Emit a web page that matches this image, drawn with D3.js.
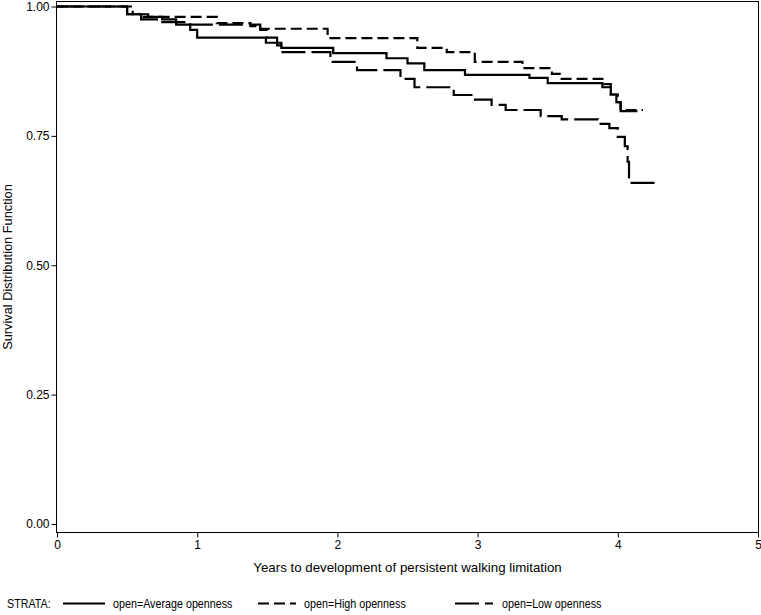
<!DOCTYPE html>
<html>
<head>
<meta charset="utf-8">
<script src="https://cdn.jsdelivr.net/npm/d3@7"></script>
<style>
  html, body { margin: 0; padding: 0; background: #fff; }
  svg { display: block; }
  text { font-family: "Liberation Sans", Arial, sans-serif; fill: #000; }
</style>
</head>
<body>
<svg id="chart" width="761" height="615"></svg>
<script>
// ---- data ----
const xTicks = [0, 1, 2, 3, 4, 5];
const yTicks = [0, 0.25, 0.5, 0.75, 1.0];
const strataLabels = ["open=Average openness", "open=High openness", "open=Low openness"];

const avgTimes = [0, 0.50, 0.65, 0.75, 0.85, 0.95, 1.00, 1.49, 1.60, 1.97, 2.35, 2.50, 2.62, 2.91, 3.37, 3.50, 3.89, 3.95, 3.99, 4.02, 4.14];
const avgSurv  = [1.0, 0.985, 0.980, 0.975, 0.965, 0.955, 0.940, 0.930, 0.920, 0.910, 0.900, 0.890, 0.877, 0.868, 0.862, 0.852, 0.844, 0.830, 0.815, 0.798, 0.798];

const highTimes = [0, 0.54, 0.60, 1.14, 1.38, 1.45, 1.93, 2.57, 2.78, 2.98, 3.32, 3.53, 3.60, 3.89, 3.95, 4.00, 4.02, 4.18];
const highSurv  = [1.0, 0.985, 0.980, 0.968, 0.962, 0.957, 0.939, 0.920, 0.912, 0.893, 0.881, 0.870, 0.860, 0.850, 0.830, 0.815, 0.800, 0.800];

const lowTimes = [0, 0.50, 0.60, 0.75, 0.95, 1.45, 1.50, 1.57, 1.60, 1.95, 2.14, 2.45, 2.55, 2.83, 2.97, 3.10, 3.20, 3.45, 3.60, 3.86, 3.94, 4.00, 4.05, 4.07, 4.08, 4.29];
const lowSurv  = [1.0, 0.985, 0.975, 0.970, 0.965, 0.955, 0.940, 0.925, 0.912, 0.893, 0.877, 0.860, 0.844, 0.829, 0.820, 0.810, 0.800, 0.788, 0.782, 0.773, 0.765, 0.748, 0.730, 0.700, 0.659, 0.659];

// ---- layout ----
const svg = d3.select("#chart");
const frame = {left: 56.5, right: 758.5, top: 1.5, bottom: 532.5};
const x = d3.scaleLinear().domain([0, 5]).range([57, 758]);
const y = d3.scaleLinear().domain([0, 1]).range([524, 6.5]);

const series = [
  {t: avgTimes, s: avgSurv, dash: null},
  {t: highTimes, s: highSurv, dash: "11,5"},
  {t: lowTimes, s: lowSurv, dash: "24,6"}
];

// frame
svg.append("rect")
  .attr("x", frame.left).attr("y", frame.top)
  .attr("width", frame.right - frame.left).attr("height", frame.bottom - frame.top)
  .attr("fill", "none").attr("stroke", "#000").attr("stroke-width", 1);

// axes
const yAxis = d3.axisLeft(y).tickValues(yTicks).tickFormat(d3.format(".2f")).tickSize(5).tickPadding(2);
const gy = svg.append("g").attr("transform", `translate(${frame.left},0)`).call(yAxis);
gy.select(".domain").remove();
gy.selectAll("text").style("font-size", "12px").style("font-family", "Liberation Sans, Arial, sans-serif");

const xAxis = d3.axisBottom(x).tickValues(xTicks).tickFormat(d3.format("d")).tickSize(5).tickPadding(3);
const gx = svg.append("g").attr("transform", `translate(0,${frame.bottom})`).call(xAxis);
gx.select(".domain").remove();
gx.selectAll("text").style("font-size", "12px").style("font-family", "Liberation Sans, Arial, sans-serif");

// axis titles
svg.append("text")
  .attr("x", (x(0) + x(5)) / 2).attr("y", 572)
  .attr("text-anchor", "middle").style("font-size", "13.3px")
  .text("Years to development of persistent walking limitation");

svg.append("text")
  .attr("transform", `translate(12,${(frame.top + frame.bottom) / 2}) rotate(-90)`)
  .attr("text-anchor", "middle").style("font-size", "12.8px")
  .text("Survival Distribution Function");

// curves
const line = d3.line().x(d => x(d[0])).y(d => y(d[1])).curve(d3.curveStepAfter);
series.forEach(sr => {
  const pts = sr.t.map((t, i) => [t, sr.s[i]]);
  svg.append("path")
    .attr("d", line(pts))
    .attr("fill", "none")
    .attr("stroke", "#000")
    .attr("stroke-width", 2.2)
    .attr("stroke-dasharray", sr.dash);
});

// legend (condensed text like the reference)
const lg = svg.append("g").attr("transform", "translate(0,608)");
const condensed = 0.86;
lg.append("text").attr("transform", `translate(7,0) scale(${condensed},1)`)
  .style("font-size", "12.5px").text("STRATA:");
const legendItems = [
  {x1: 63, x2: 105, tx: 113},
  {x1: 258, x2: 296, tx: 304},
  {x1: 455, x2: 493, tx: 502}
];
legendItems.forEach((it, i) => {
  lg.append("line")
    .attr("x1", it.x1).attr("x2", it.x2).attr("y1", -4.5).attr("y2", -4.5)
    .attr("stroke", "#000").attr("stroke-width", 2.2)
    .attr("stroke-dasharray", series[i].dash);
  lg.append("text").attr("transform", `translate(${it.tx},0) scale(${condensed},1)`)
    .style("font-size", "12.5px").text(strataLabels[i]);
});
</script>
</body>
</html>
